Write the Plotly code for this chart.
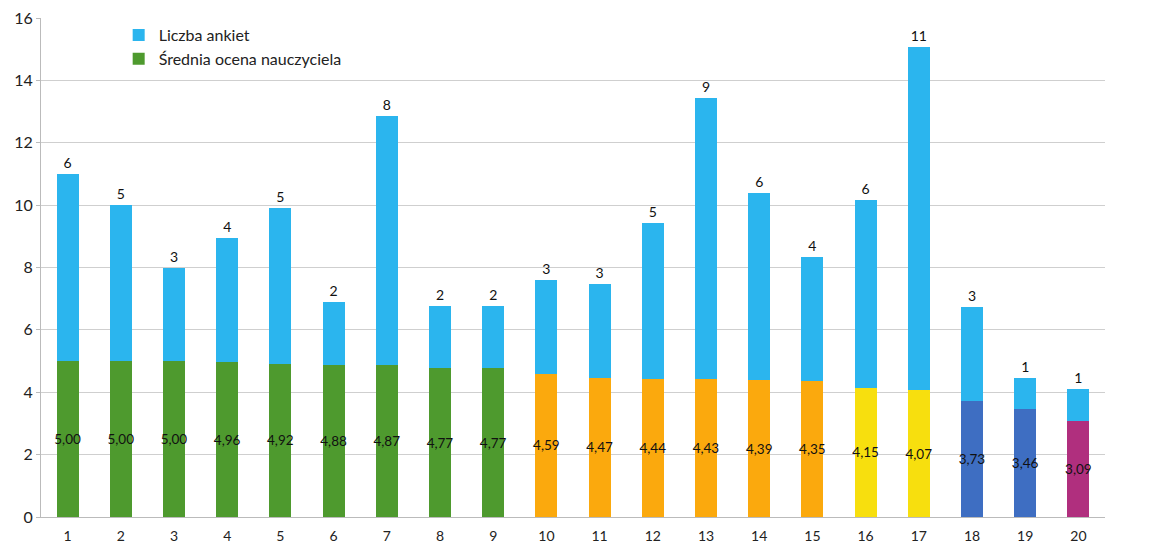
import plotly.graph_objects as go

categories = [str(i) for i in range(1, 21)]
srednia = [5.00, 5.00, 5.00, 4.96, 4.92, 4.88, 4.87, 4.77, 4.77, 4.59,
           4.47, 4.44, 4.43, 4.39, 4.35, 4.15, 4.07, 3.73, 3.46, 3.09]
liczba = [6, 5, 3, 4, 5, 2, 8, 2, 2, 3, 3, 5, 9, 6, 4, 6, 11, 3, 1, 1]
grupa = ["g"] * 9 + ["o"] * 6 + ["y"] * 2 + ["b"] * 2 + ["m"]

palette = {"g": "#4E9A2E", "o": "#FBA90D", "y": "#F7DF0E", "b": "#3E6EC2", "m": "#B02F7E"}
sky = "#2BB5EE"
FONT = "Lato, 'Open Sans', sans-serif"

def fmt(v):
    return f"{v:.2f}".replace(".", ",")

fig = go.Figure()
fig.add_trace(go.Bar(
    x=categories, y=srednia, name="Średnia ocena nauczyciela",
    marker=dict(color=[palette[g] for g in grupa], line=dict(width=0)),
    text=[fmt(v) for v in srednia], textposition="inside", textangle=0,
    insidetextanchor="middle", constraintext="none",
    textfont=dict(color="#111111", size=13.5, family=FONT),
    legendrank=2,
))
fig.add_trace(go.Bar(
    x=categories, y=liczba, name="Liczba ankiet",
    marker=dict(color=sky, line=dict(width=0)),
    text=[str(v) for v in liczba], textposition="outside", textangle=0,
    constraintext="none", cliponaxis=False,
    textfont=dict(color="#111111", size=14, family=FONT),
    legendrank=1,
))

fig.update_layout(
    width=1173, height=550,
    barmode="stack", bargap=0.59,
    paper_bgcolor="white", plot_bgcolor="white",
    margin=dict(l=41, r=68, t=18, b=33, autoexpand=False),
    font=dict(family=FONT, size=14, color="#222"),
    showlegend=True,
    legend=dict(x=0.073, y=1.0, xanchor="left", yanchor="top",
                traceorder="normal",
                bgcolor="rgba(0,0,0,0)", font=dict(size=16, family=FONT),
                itemwidth=30, tracegroupgap=2),
)
fig.update_yaxes(range=[0, 16], dtick=2, showgrid=True, gridcolor="#cfcfcf",
                 gridwidth=1, showline=True, linecolor="#bbbbbb",
                 ticks="outside", ticklen=4, tickcolor="#bbbbbb",
                 tickfont=dict(size=16, family=FONT), zeroline=False,
                 automargin=False)
fig.update_xaxes(showline=True, linecolor="#bbbbbb", ticks="",
                 ticklabelstandoff=6, automargin=False,
                 tickfont=dict(size=14, family=FONT), showgrid=False)

fig.write_html("out.html")
